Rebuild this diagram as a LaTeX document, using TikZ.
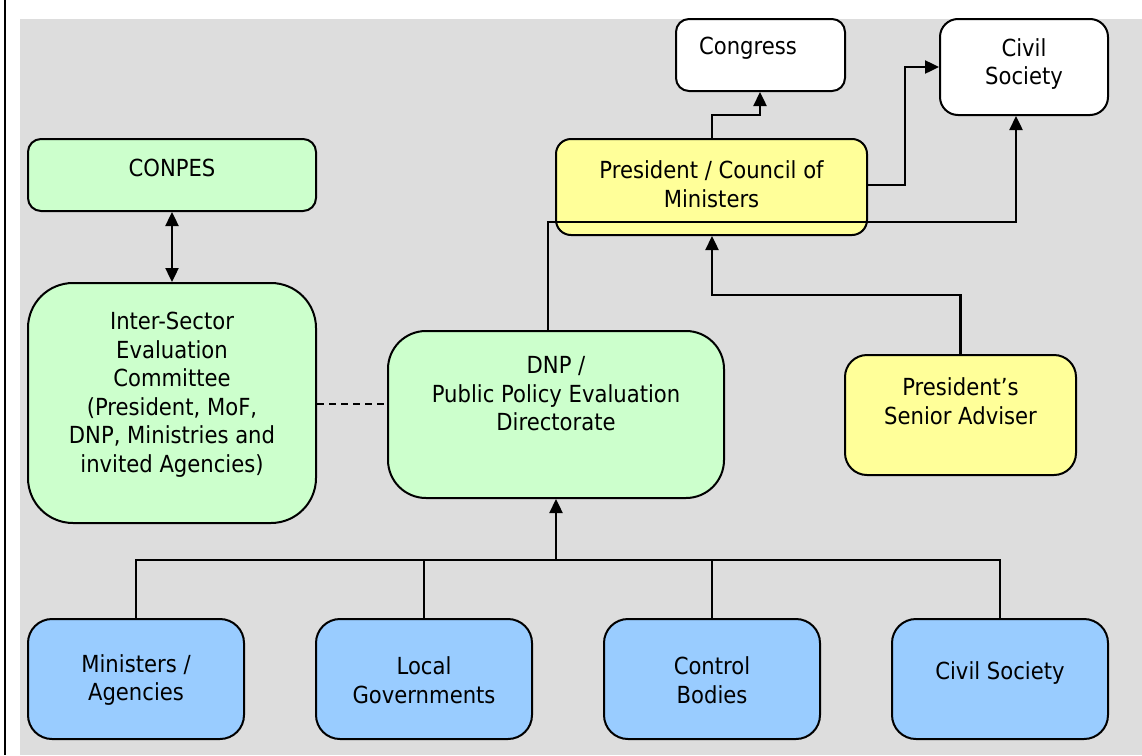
\documentclass[tikz,border=0pt]{standalone}
\usepackage{fontspec}
\setmainfont{DejaVu Sans}[FakeStretch=0.9]
\usetikzlibrary{arrows.meta}
\definecolor{bggrey}{HTML}{DDDDDD}
\definecolor{lgreen}{HTML}{CCFFCC}
\definecolor{lyellow}{HTML}{FFFF99}
\definecolor{lblue}{HTML}{99CCFF}
\tikzset{
  x=1pt, y=-1pt,
  box/.style={draw=black, line width=2pt, inner sep=0pt},
  txt/.style={align=center, font=\fontsize{23.5}{28.5}\selectfont, inner sep=0pt},
  conn/.style={draw=black, line width=2.4pt},
  tip/.style={-{Triangle[length=14pt,width=13pt]}},
}
\begin{document}
\begin{tikzpicture}
\useasboundingbox (0,0) rectangle (1142,755);
\fill[bggrey] (20,19) rectangle (1142,755);
\draw[line width=2.5pt] (5,0) -- (5,755);

% boxes
\node[box, fill=white, rounded corners=13pt, minimum width=169pt, minimum height=72pt] (congress) at (760.5,55) {};
\node[txt] (congressT) at (748,48) {Congress};
\node[box, fill=white, rounded corners=18pt, minimum width=168pt, minimum height=96pt] (civtop) at (1024,67) {};
\node[txt] (civtopT) at (1024,64) {Civil\\Society};
\node[box, fill=lgreen, rounded corners=13pt, minimum width=288pt, minimum height=72pt] (conpes) at (172,175) {};
\node[txt] (conpesT) at (172,168) {CONPES};
\node[box, fill=lgreen, rounded corners=45pt, minimum width=288pt, minimum height=240pt] (isec) at (172,403) {};
\node[txt] (isecT) at (172,394.5) {Inter-Sector\\Evaluation\\Committee\\(President, MoF,\\DNP, Ministries and\\invited Agencies)};
\node[box, fill=lgreen, rounded corners=38pt, minimum width=336pt, minimum height=167pt] (dnp) at (556,414.5) {};
\node[txt] (dnpT) at (556,394) {DNP /\\Public Policy Evaluation\\Directorate};
\node[box, fill=lyellow, rounded corners=15pt, minimum width=311pt, minimum height=96pt] (pres) at (711.5,187) {};
\node[txt] (presT) at (711.5,184) {President / Council of\\Ministers};
\node[box, fill=lyellow, rounded corners=22pt, minimum width=231pt, minimum height=120pt] (adv) at (960.5,415) {};
\node[txt] (advT) at (960.5,401) {President's\\Senior Adviser};
\foreach \n/\cx/\t in {min/136/{Ministers /\\Agencies}, loc/424/{Local\\Governments}, ctl/712/{Control\\Bodies}} {
  \node[box, fill=lblue, rounded corners=24pt, minimum width=216pt, minimum height=120pt] (\n) at (\cx,679) {};
  \node[txt] (\n T) at (\cx,680) {\t};
}
\node[box, fill=lblue, rounded corners=24pt, minimum width=216pt, minimum height=120pt] (civ) at (1000,679) {};
\node[txt] (civT) at (1000,673) {Civil Society};

% connectors
\draw[conn, {Triangle[length=14pt,width=13pt]}-{Triangle[length=14pt,width=13pt]}] (conpes.south) -- (isec.north);
\draw[conn, dashed, dash pattern=on 7pt off 5pt, line width=1.8pt] (isec.east |- 0,404) -- (dnp.west |- 0,404);
\draw[conn, tip] (dnp.north -| 548,0) |- (1016,222) -- (civtop.south -| 1016,0);
\draw[conn, tip] (pres.north -| 712,0) |- (760,115) -- (congress.south -| 760,0);
\draw[conn, tip] (pres.east |- 0,185) -| (905,67) -- (civtop.west |- 0,67);
\draw[conn, tip] (adv.north) |- (712,295) -- (pres.south -| 712,0);
\draw[conn] (min.north) |- (424,560) -- (loc.north);
\draw[conn] (424,560) -| (ctl.north);
\draw[conn] (712,560) -| (civ.north);
\draw[conn, tip] (556,560) -- (dnp.south);
\end{tikzpicture}
\end{document}
